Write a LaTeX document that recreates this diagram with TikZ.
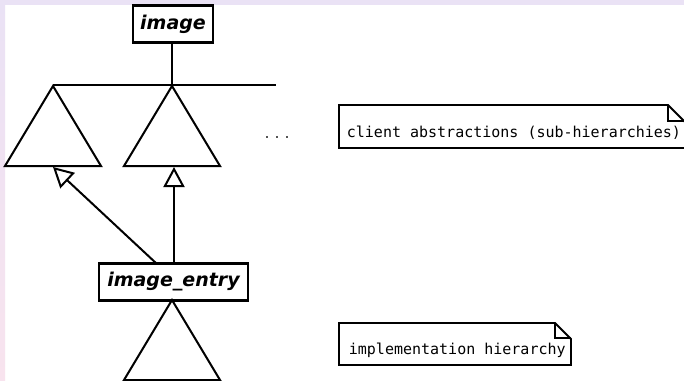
\documentclass[tikz,border=0pt]{standalone}
\usepackage{fontspec}
\newfontfamily\boxfont{DejaVu Sans}
\newfontfamily\notefont{DejaVu Sans Mono}
\usetikzlibrary{arrows.meta}
\definecolor{bandtop}{HTML}{EAE2F5}
\definecolor{bandlow}{HTML}{F8E3EE}
\definecolor{dotgray}{HTML}{555555}
\begin{document}
\begin{tikzpicture}[x=1pt,y=-1pt,
  line width=2pt,
  classbox/.style={draw,line width=2.2pt,inner sep=0pt,minimum height=37pt,
    font=\boxfont\bfseries\itshape\fontsize{19}{20}\selectfont},
  notetext/.style={font=\notefont\fontsize{15}{16}\selectfont,inner sep=0pt,anchor=base west},
  inherit/.style={-{Triangle[open,length=20pt,width=21pt,line width=2pt]},line width=2pt},
  hier/.style={line width=2pt,line join=miter},
  dot/.style={fill=dotgray,inner sep=0pt,minimum size=1.6pt}]
\useasboundingbox (0,0) rectangle (684,380);
% page background with tinted margins
\fill[white] (0,0) rectangle (684,380);
\fill[bandtop] (0,0) rectangle (684,5);
\shade[top color=bandtop,bottom color=bandlow] (0,0) rectangle (5,380);

% root class
\node[classbox,minimum width=80pt] (image) at (173,24) {image};
\coordinate (junction) at (172,85);
\coordinate (hleft) at (53,85);
\coordinate (hright) at (276,85);
\draw[hier] (image.south -| junction) -- (junction);
\draw[hier] (hleft) -- (hright);

% client sub-hierarchies
\coordinate (topA) at (53,86);
\coordinate (topB) at (172,86);
\draw[hier] (topA) -- (101,166) -- (5,166) -- cycle;
\draw[hier] (topB) -- (220,166) -- (124,166) -- cycle;
\node[dot] (dot1) at (267,137) {};
\node[dot] (dot2) at (277,137) {};
\node[dot] (dot3) at (287,137) {};

% implementation class
\node[classbox,minimum width=149pt] (entry) at (173.5,282) {image\_entry};
\coordinate (baseA) at (53,167);
\coordinate (baseB) at (174,167);
\draw[inherit] (157,264) -- (baseA);
\draw[inherit] (entry.north -| baseB) -- (baseB);

% implementation hierarchy
\coordinate (topC) at (172,300);
\draw[hier] (topC) -- (220,380) -- (124,380) -- cycle;

% notes
\begin{scope}[line width=1.8pt]
\draw (339,105) -- (668,105) -- (686,123) -- (686,148) -- (339,148) -- cycle;
\draw[line width=1.2pt] (668,105) |- (686,121);
\node[notetext] (clientnote) at (346,137) {client abstractions (sub-hierarchies)};
\draw (339,323) -- (555,323) -- (571,339) -- (571,365) -- (339,365) -- cycle;
\draw[line width=1.2pt] (555,323) |- (571,338);
\node[notetext] (implnote) at (348,354.5) {implementation hierarchy};
\end{scope}
\end{tikzpicture}
\end{document}
